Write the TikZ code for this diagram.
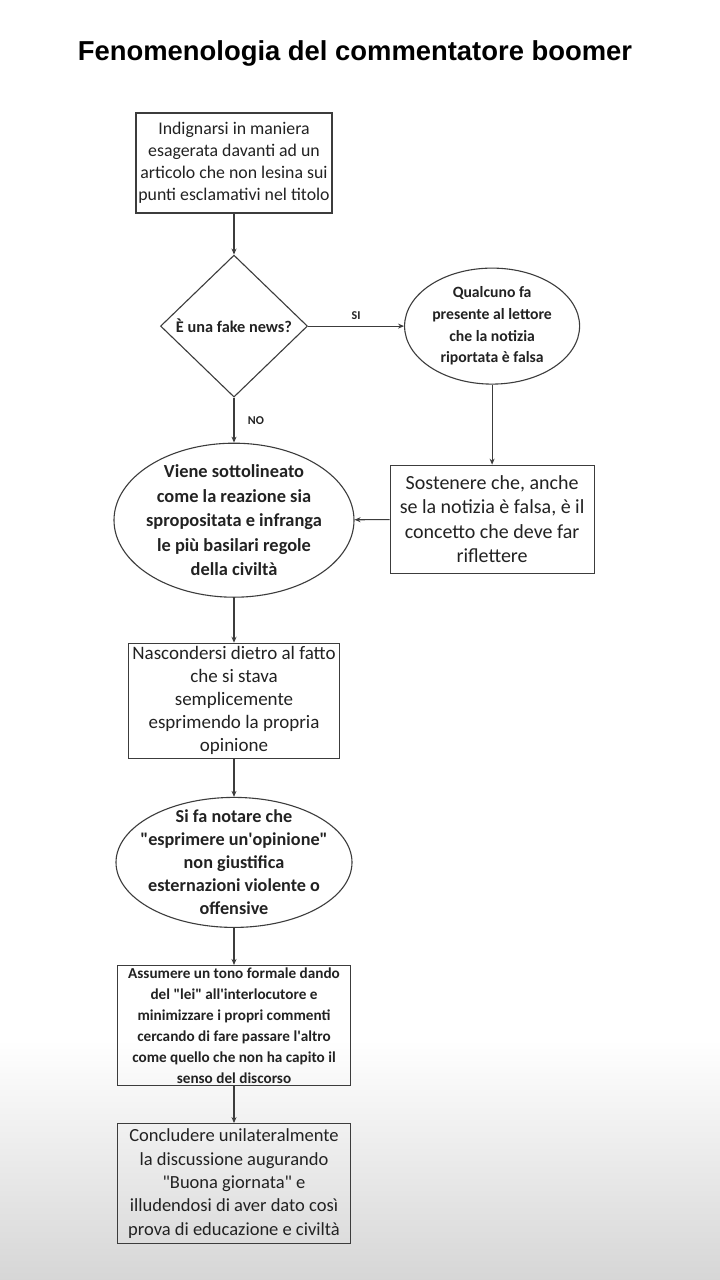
\documentclass[tikz,border=0pt]{standalone}
\usepackage{fontspec}
\setmainfont{Carlito}
\newfontfamily\titlefont{Liberation Sans}
\usepackage{tikz}
\usetikzlibrary{positioning,arrows.meta,shapes.geometric}
\newcommand{\dq}{\textquotedbl}
\newcommand{\sq}{\textquotesingle}
\definecolor{boomink}{RGB}{34,34,34}
\definecolor{boomline}{RGB}{60,60,60}
\tikzset{
  stepbox/.style={draw=boomline, line width=1.1pt, align=center, inner sep=0pt,
                  text=boomink},
  talk/.style={ellipse, draw=boomline, line width=1.1pt, inner sep=0pt},
  talktext/.style={align=center, inner sep=0pt, text=boomink},
  ask/.style={diamond, draw=boomline, line width=1.1pt, align=center, inner sep=0pt,
              text=boomink, font=\bfseries\fontsize{16.3}{19}\selectfont},
  flow/.style={-{Stealth[length=6pt,width=5pt]}, draw=boomline, line width=1.1pt},
}

\begin{document}
\begin{tikzpicture}[x=1pt, y=-1pt,
      lbl/.style={font=\bfseries\fontsize{12}{14}\selectfont, text=boomink}]
    \useasboundingbox (0,0) rectangle (720,1280);
    \fill[white] (0,0) rectangle (720,1280);
    \shade[top color=white, bottom color=black!16] (0,1040) rectangle (720,1280);

    \node[font=\titlefont\bfseries\fontsize{27.4}{31}\selectfont, text=black] (title) at (355,53)
      {Fenomenologia del commentatore boomer};

    \node[stepbox, minimum width=196pt, minimum height=100pt,
          font=\fontsize{17.8}{22}\selectfont] (indign) at (234,163)
      {Indignarsi in maniera\\ esagerata davanti ad un\\ articolo che non lesina sui\\ punti esclamativi nel titolo};
    \node[ask, minimum width=147pt, minimum height=142pt, below=41pt of indign] (fake)
      {È una fake news?};
    \node[talk, minimum width=175pt, minimum height=116pt, right=96pt of fake,
          label={[talktext, font=\bfseries\fontsize{15.7}{21.7}\selectfont]center:{Qualcuno fa\\ presente al lettore\\ che la notizia\\ riportata è falsa}}] (qual) {};
    \node[stepbox, minimum width=204pt, minimum height=108pt, below=80pt of qual,
          font=\fontsize{20}{24.5}\selectfont] (soste)
      {Sostenere che, anche\\ se la notizia è falsa, è il\\ concetto che deve far\\ riflettere};
    \node[talk, minimum width=240pt, minimum height=154pt, below=45pt of fake,
          label={[talktext, font=\bfseries\fontsize{18.4}{24.5}\selectfont]center:{Viene sottolineato\\ come la reazione sia\\ spropositata e infranga\\ le più basilari regole\\ della civiltà}}] (viene) {};
    \node[stepbox, minimum width=211pt, minimum height=115pt, below=45pt of viene,
          font=\fontsize{19}{23}\selectfont] (nasc)
      {Nascondersi dietro al fatto\\ che si stava\\ semplicemente\\ esprimendo la propria\\ opinione};
    \node[talk, minimum width=236pt, minimum height=130pt, below=38pt of nasc,
          label={[talktext, font=\bfseries\fontsize{18.2}{23}\selectfont]center:{Si fa notare che\\ \dq esprimere un\sq opinione\dq\\ non giustifica\\ esternazioni violente o\\ offensive}}] (opin) {};
    \node[stepbox, minimum width=233pt, minimum height=120pt, below=37pt of opin,
          font=\bfseries\fontsize{15.2}{21}\selectfont] (tono)
      {Assumere un tono formale dando\\ del \dq lei\dq\ all\sq interlocutore e\\ minimizzare i propri commenti\\ cercando di fare passare l\sq altro\\ come quello che non ha capito il\\ senso del discorso};
    \node[stepbox, minimum width=233pt, minimum height=120pt, below=37pt of tono,
          font=\fontsize{18.5}{23.3}\selectfont] (fine)
      {Concludere unilateralmente\\ la discussione augurando\\ \dq Buona giornata\dq\ e\\ illudendosi di aver dato così\\ prova di educazione e civiltà};

    \draw[flow] (indign) -- (fake);
    \draw[flow] (fake) -- node[lbl, above=3pt]{SI} (qual);
    \draw[flow] (fake) -- node[lbl, right=10pt]{NO} (viene);
    \draw[flow] (qual) -- (soste);
    \draw[flow] (soste) -- (viene);
    \draw[flow] (viene) -- (nasc);
    \draw[flow] (nasc) -- (opin);
    \draw[flow] (opin) -- (tono);
    \draw[flow] (tono) -- (fine);
  \end{tikzpicture}
\end{document}
